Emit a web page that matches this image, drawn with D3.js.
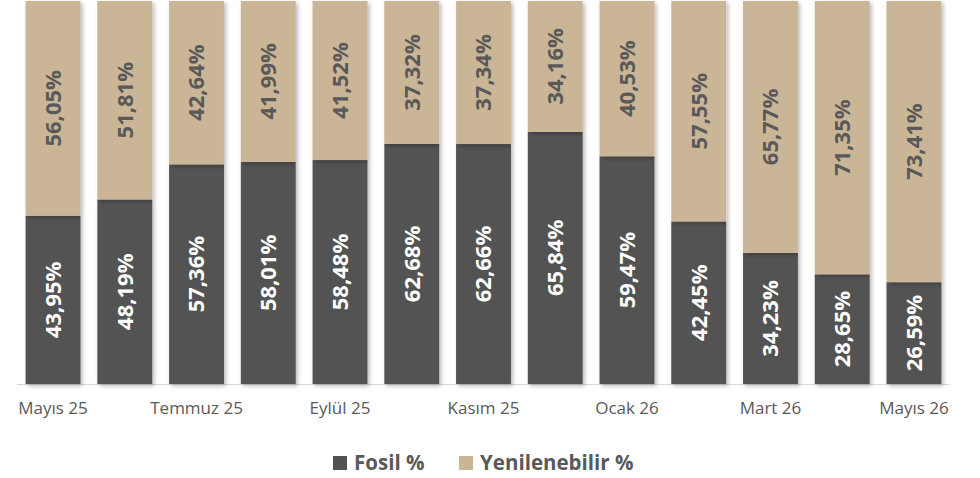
<!DOCTYPE html>
<html><head><meta charset="utf-8">
<script src="https://cdn.jsdelivr.net/npm/d3@7"></script>
<style>body{margin:0;background:#fff}svg{display:block}</style>
</head><body><svg id="c" width="980" height="478"></svg>
<script>
const categories = ["Mayıs 25","Haziran 25","Temmuz 25","Ağustos 25","Eylül 25","Ekim 25","Kasım 25","Aralık 25","Ocak 26","Şubat 26","Mart 26","Nisan 26","Mayıs 26"];
const fosil = [43.95,48.19,57.36,58.01,58.48,62.68,62.66,65.84,59.47,42.45,34.23,28.65,26.59];
const yenilenebilir = [56.05,51.81,42.64,41.99,41.52,37.32,37.34,34.16,40.53,57.55,65.77,71.35,73.41];
const tickLabels = ["Mayıs 25","","Temmuz 25","","Eylül 25","","Kasım 25","","Ocak 26","","Mart 26","","Mayıs 26"];
const seriesNames = ["Fosil %","Yenilenebilir %"];
const colors = ["#525252","#CAB696"];
const font = "'Open Sans', 'Noto Sans', sans-serif";

const svg = d3.select("#c");
const defs = svg.append("defs");
const f = defs.append("filter").attr("id","sh").attr("x","-20%").attr("y","-5%").attr("width","150%").attr("height","115%");
f.append("feDropShadow").attr("dx",2).attr("dy",2).attr("stdDeviation",2).attr("flood-color","#000").attr("flood-opacity",0.28);

const x = d3.scaleBand().domain(categories).range([17,950]).paddingInner(0.235).paddingOuter(0.12);
const y = d3.scaleLinear().domain([0,100]).range([384,1]);

const data = categories.map((c,i)=>({c, f:fosil[i], r:yenilenebilir[i]}));
const stack = d3.stack().keys(["f","r"])(data);

svg.append("line").attr("x1",17).attr("x2",950).attr("y1",384.5).attr("y2",384.5).attr("stroke","#d9d9d9").attr("stroke-width",1);

const g = svg.append("g");
stack.forEach((layer,li)=>{
  g.selectAll(null).data(layer).enter().append("rect")
    .attr("x",d=>x(d.data.c)).attr("width",x.bandwidth())
    .attr("y",d=>y(d[1])).attr("height",d=>y(d[0])-y(d[1]))
    .attr("fill",colors[li]).attr("filter","url(#sh)");
});
stack.forEach((layer,li)=>{
  g.selectAll(null).data(layer).enter().append("text")
    .attr("transform",d=>`translate(${x(d.data.c)+x.bandwidth()/2},${(y(d[0])+y(d[1]))/2}) rotate(-90)`)
    .attr("text-anchor","middle").attr("dy","0.36em")
    .attr("font-family",font).attr("font-weight","bold").attr("font-size",22)
    .attr("fill",li===0?"#ffffff":"#595959")
    .text(d=>(d[1]-d[0]).toFixed(2).replace(".",",")+"%");
});

const ax = svg.append("g").attr("transform","translate(0,384)")
  .call(d3.axisBottom(x).tickSize(0).tickPadding(18).tickFormat((d,i)=>tickLabels[i]));
ax.select(".domain").remove();
ax.selectAll("text").attr("font-family",font).attr("font-size",17).attr("fill","#595959");

const leg = svg.append("g");
const items = [{x:333,t:seriesNames[0]},{x:459,t:seriesNames[1]}];
items.forEach((it,i)=>{
  leg.append("rect").attr("x",it.x).attr("y",456).attr("width",14).attr("height",14).attr("fill",colors[i]);
  leg.append("text").attr("x",it.x+21).attr("y",470).attr("font-family",font).attr("font-weight","bold").attr("font-size",20.5).attr("fill","#595959").text(it.t);
});
</script></body></html>
